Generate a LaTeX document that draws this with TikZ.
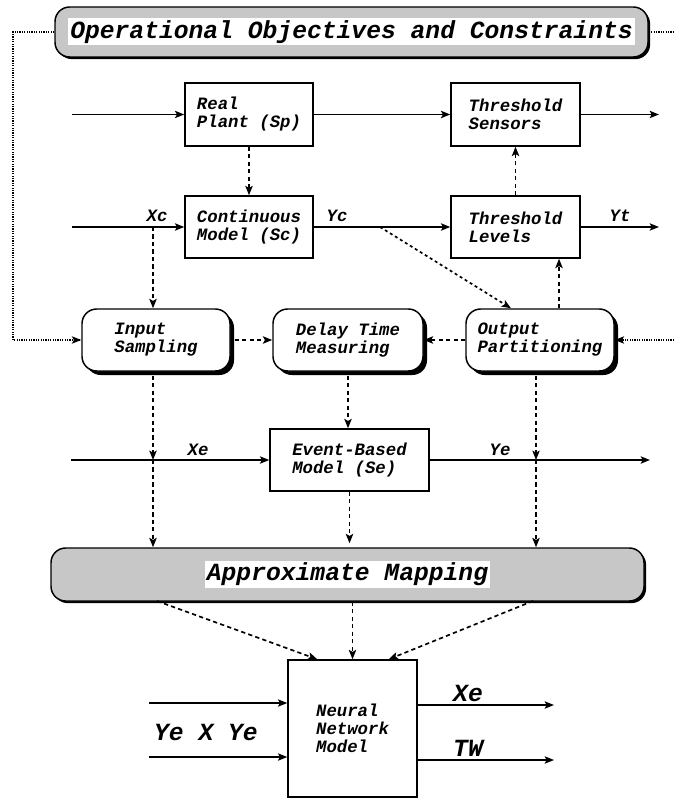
\documentclass[tikz,border=0pt]{standalone}
\usepackage{fontspec}
\setmonofont{Liberation Mono}
\usetikzlibrary{arrows.meta,shadows}

\tikzset{
  txt/.style={font=\ttfamily\bfseries\itshape\fontsize{13}{13.5}\selectfont, inner sep=0pt},
  bigtxt/.style={font=\ttfamily\bfseries\itshape\fontsize{18.5}{20}\selectfont, inner sep=0pt},
  blk/.style={draw, line width=1.1pt, fill=white, align=left, txt},
  rblk/.style={blk, rounded corners=11pt,
    drop shadow={shadow xshift=3pt, shadow yshift=-3pt, fill=black, opacity=1}},
  band/.style={draw, line width=1.1pt, fill=black!22, rounded corners=11pt,
    drop shadow={shadow xshift=1.6pt, shadow yshift=-1.6pt, fill=black, opacity=1}},
  title/.style={bigtxt, fill=white, inner sep=1.5pt},
  tip/.style={-{Stealth[length=7pt,width=5.5pt,inset=1.5pt]}},
  flow/.style={tip, line width=1.1pt},
  dashflow/.style={flow, line width=1.25pt, dash pattern=on 3.2pt off 2.4pt},
  finedash/.style={flow, line width=1.25pt, dash pattern=on 2.2pt off 2.2pt},
  dotline/.style={line width=1.1pt, dash pattern=on 0.9pt off 0.9pt},
}

\begin{document}
\begin{tikzpicture}[x=0.75pt, y=-0.75pt]
\useasboundingbox (0,0) rectangle (674,798);

% objectives band
\node[band, minimum width=444.75pt, minimum height=37.5pt] (obj) at (351.5,32) {};
\node[title] (objt) at (obj.center) {Operational Objectives and Constraints};

% plant row
\node[blk, minimum width=96pt, minimum height=47.25pt] (rp) at (249,114.5) {Real\\Plant (Sp)};
\node[blk, minimum width=96.75pt, minimum height=47.25pt] (ts) at (515.5,114.5) {Threshold\\Sensors};

% continuous row
\node[blk, minimum width=96pt, minimum height=46.5pt] (cm) at (249,227) {Continuous\\Model (Sc)};
\node[blk, minimum width=96.75pt, minimum height=46.5pt] (tl) at (515.5,227) {Threshold\\Levels};

% sampling / measuring / partitioning row
\node[rblk, minimum width=111pt, minimum height=46.5pt] (ins) at (156,340) {Input\\Sampling};
\node[rblk, minimum width=112.5pt, minimum height=46.5pt] (dly) at (348,340) {Delay Time\\Measuring};
\node[rblk, minimum width=111pt, minimum height=46.5pt] (outp) at (540,340) {Output\\Partitioning};

% event-based row
\node[blk, minimum width=119.25pt, minimum height=46.5pt] (ev) at (349.5,460) {Event-Based\\Model (Se)};

% mapping band
\node[band, minimum width=444.75pt, minimum height=39.75pt] (apx) at (347.5,574.5) {};
\node[title] (apxt) at (apx.center) {Approximate Mapping};

% neural network
\node[blk, minimum width=96.75pt, minimum height=102.75pt] (nn) at (352.5,728.5) {Neural\\Network\\Model};

% free ends and junctions
\coordinate (p1) at (72,114.5);
\coordinate (p2) at (659,114.5);
\coordinate (c1) at (72,227);
\coordinate (c2) at (659,227);
\coordinate (xcj) at (153,227);
\coordinate (ycj) at (380,227);
\coordinate (opr) at (559,0);
\coordinate (opl) at (511,0);
\coordinate (lft) at (13,32);
\coordinate (rgt) at (674,32);
\coordinate (rin) at (674,340);
\coordinate (e1) at (71,460);
\coordinate (e2) at (650,460);
\coordinate (xej) at (153,460);
\coordinate (yej) at (536,460);
\coordinate (ml) at (157,601);
\coordinate (mr) at (533,601);
\coordinate (ni1) at (149,703);
\coordinate (ni2) at (149,757);
\coordinate (no1) at (554,705);
\coordinate (no2) at (554,760);

% signal labels
\node[txt] (lxc) at (157,216) {Xc};
\node[txt] (lyc) at (337,216) {Yc};
\node[txt] (lyt) at (620,216) {Yt};
\node[txt] (lxe) at (198,450) {Xe};
\node[txt] (lye) at (500,450) {Ye};
\node[bigtxt] (lyy) at (206,732) {Ye X Ye};
\node[bigtxt] (lxo) at (468,693) {Xe};
\node[bigtxt] (ltw) at (468,748) {TW};

% solid signal flow
\draw[flow] (p1) -- (rp.west);
\draw[flow] (rp.east) -- (ts.west);
\draw[flow] (ts.east) -- (p2);
\draw[flow] (c1) -- (cm.west);
\draw[flow] (cm.east) -- (tl.west);
\draw[flow] (tl.east) -- (c2);
\draw[flow] (e1) -- (ev.west);
\draw[flow] (ev.east) -- (e2);
\draw[flow] (ni1) -- (ni1 -| nn.west);
\draw[flow] (ni2) -- (ni2 -| nn.west);
\draw[flow] (no1 -| nn.east) -- (no1);
\draw[flow] (no2 -| nn.east) -- (no2);

% objectives links
\draw[dotline] (obj.west) -- (lft) |- (ins.west);
\draw[tip, line width=1pt] ([xshift=-4pt]ins.west) -- (ins.west);
\draw[dotline] (obj.east) -- (rgt);
\draw[dotline] (rin) -- (outp.east);
\draw[tip, line width=1pt] ([xshift=4pt]outp.east) -- (outp.east);

% dashed information flow
\draw[dashflow] (rp.south) -- (cm.north);
\draw[dashflow] (tl.north) -- (ts.south);
\draw[dashflow] (xcj) -- (xcj |- ins.north);
\draw[finedash] (ycj) -- (opl |- outp.north);
\draw[dashflow] (opr |- outp.north) -- (opr |- tl.south);
\draw[dashflow, shorten <=3pt] (ins.east) -- (dly.west);
\draw[dashflow] (outp.west) -- (dly.east);
\draw[dashflow, shorten <=3pt] (xej |- ins.south) -- (xej);
\draw[dashflow] (xej) -- (xej |- apx.north);
\draw[dashflow, shorten <=3pt] (dly.south) -- (dly.south |- ev.north);
\draw[dashflow, shorten >=3pt] (ev.south) -- (ev.south |- apx.north);
\draw[dashflow, shorten <=3pt] (yej |- outp.south) -- (yej);
\draw[dashflow] (yej) -- (yej |- apx.north);
\draw[dashflow] (ml) -- ([xshift=22.5pt]nn.north west);
\draw[dashflow] (nn.north |- apx.south) -- (nn.north);
\draw[dashflow] (mr) -- ([xshift=-21.75pt]nn.north east);
\end{tikzpicture}
\end{document}
